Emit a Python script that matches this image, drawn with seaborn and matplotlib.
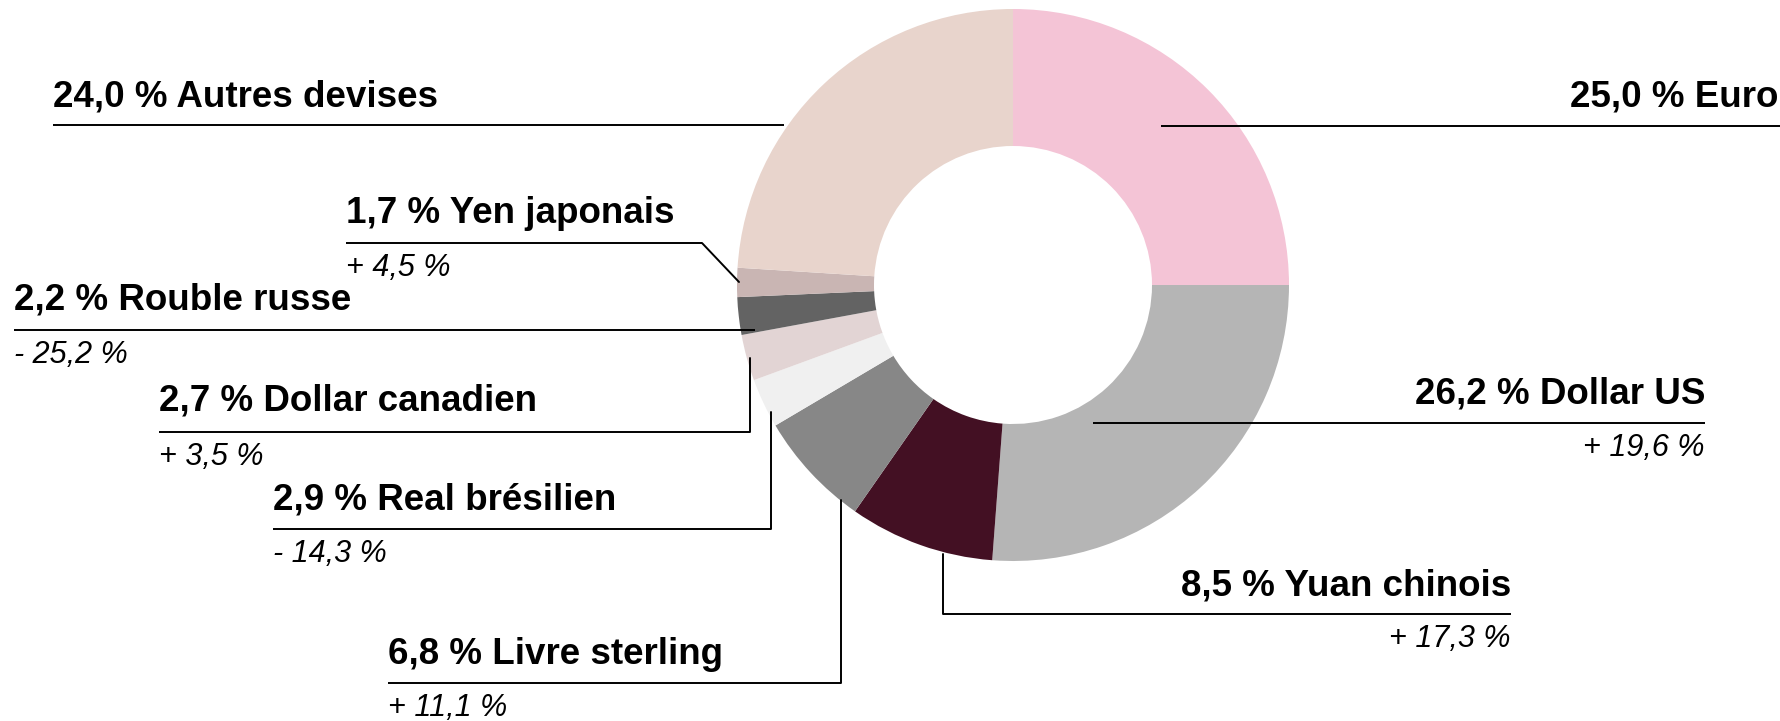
import matplotlib
matplotlib.use("Agg")
import matplotlib.pyplot as plt
import seaborn as sns

# -----------------------------
# DATA
# -----------------------------
devises = ["Euro", "Dollar US", "Yuan chinois", "Livre sterling", "Real brésilien",
           "Dollar canadien", "Rouble russe", "Yen japonais", "Autres devises"]
parts = [25.0, 26.2, 8.5, 6.8, 2.9, 2.7, 2.2, 1.7, 24.0]
variations = [None, 19.6, 17.3, 11.1, -14.3, 3.5, -25.2, 4.5, None]
couleurs = ["#F4C4D6", "#B5B5B5", "#431023", "#878787", "#F0F0F0",
            "#E2D4D4", "#636363", "#C9B5B3", "#E8D4CC"]

# -----------------------------
# LAYOUT (pixels, top-left origin)
# -----------------------------
W, H = 1781, 721
CX, CY, R, RING = 1013, 285, 276, 137

# label: (text x, align, text y, line y, line x0, line x1, leader points)
LAYOUT = {
    "Euro": (1778, "right", 97, 126, 1161, 1781, []),
    "Dollar US": (1705, "right", 394, 423, 1093, 1705, []),
    "Yuan chinois": (1511, "right", 586, 614, 943, 1511, [(943, 614), (943, 554)]),
    "Livre sterling": (388, "left", 655, 683, 388, 841, [(841, 683), (841, 500)]),
    "Real brésilien": (273, "left", 500, 529, 273, 771, [(771, 529), (771, 412)]),
    "Dollar canadien": (159, "left", 401, 432, 159, 750, [(750, 432), (750, 358)]),
    "Rouble russe": (14, "left", 300, 330, 14, 755, []),
    "Yen japonais": (346, "left", 214, 243, 346, 702, [(702, 243), (739, 282)]),
    "Autres devises": (53, "left", 97, 125, 53, 784, []),
}


def Y(y):
    return H - y


def fr(v):
    return f"{abs(v):.1f}".replace(".", ",")


# -----------------------------
# PLOT
# -----------------------------
sns.set_theme(style="white")
plt.rcParams["font.family"] = ["Liberation Sans", "DejaVu Sans"]

fig = plt.figure(figsize=(W / 100, H / 100), dpi=100)
ax = fig.add_axes([0, 0, 1, 1])

ax.pie(parts, colors=couleurs, startangle=90, counterclock=False,
       radius=R, center=(CX, Y(CY)),
       wedgeprops=dict(width=RING, linewidth=0))

for nom, part, var in zip(devises, parts, variations):
    tx, ha, ty, ly, x0, x1, pts = LAYOUT[nom]
    ax.text(tx, Y(ty), f"{fr(part)} % {nom}", ha=ha, va="center",
            fontsize=26.5, fontweight="bold", color="black")
    ax.plot([x0, x1], [Y(ly), Y(ly)], color="black", lw=1.4, solid_capstyle="butt")
    if pts:
        ax.plot([p[0] for p in pts], [Y(p[1]) for p in pts], color="black", lw=1.4)
    if var is not None:
        signe = "+" if var > 0 else "-"
        ax.text(tx, Y(ly + 25), f"{signe} {fr(var)} %", ha=ha, va="center",
                fontsize=22, fontstyle="italic", color="black")

ax.set_xlim(0, W)
ax.set_ylim(0, H)
ax.set_aspect("equal")
ax.axis("off")

fig.savefig("out.png", dpi=100)
